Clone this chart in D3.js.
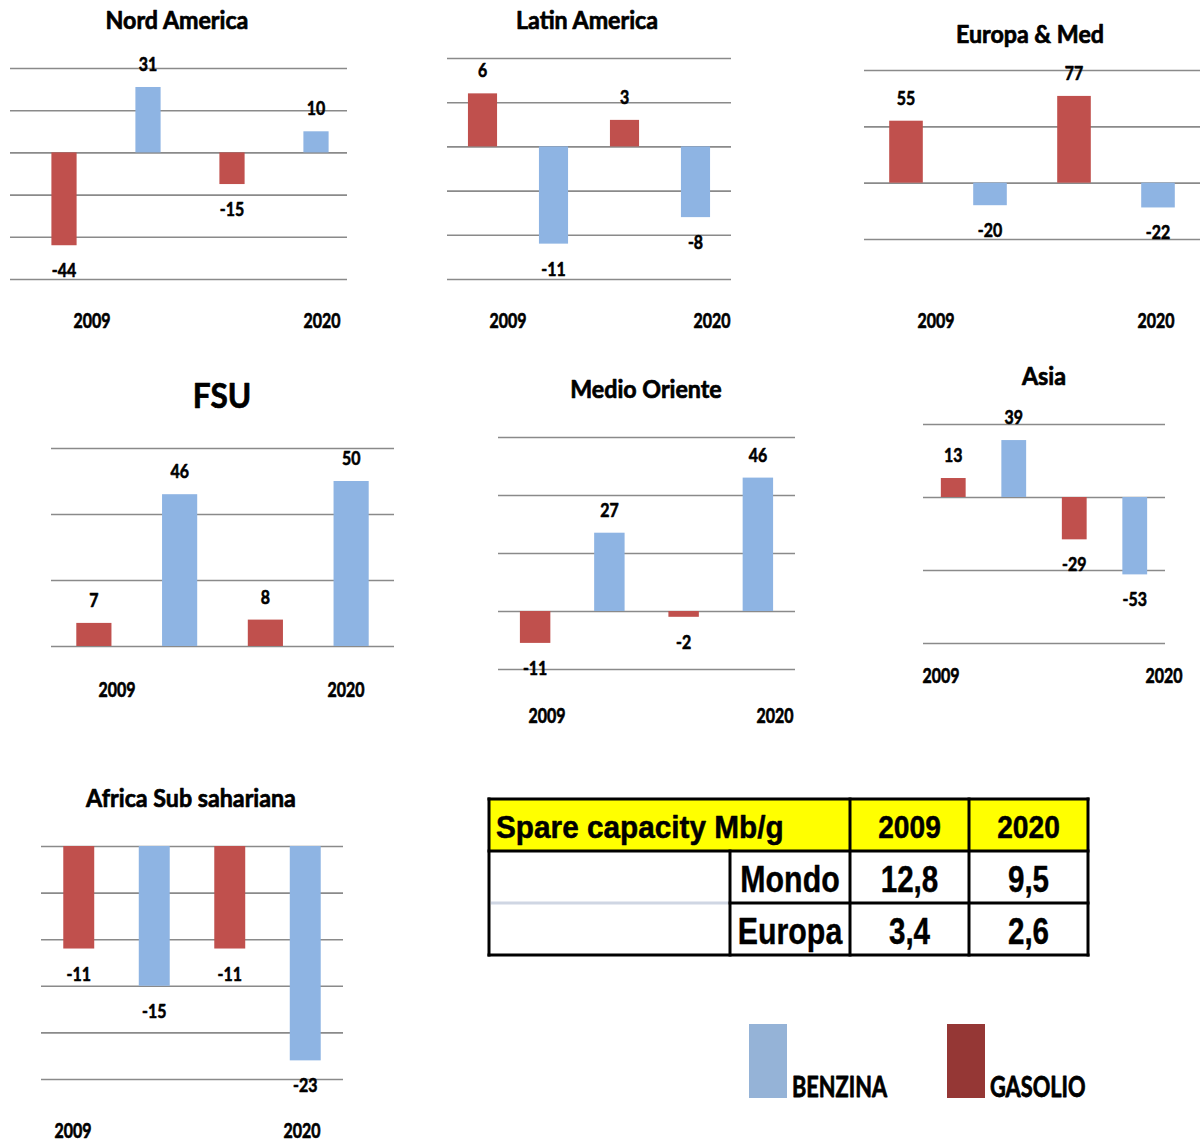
<!DOCTYPE html>
<html>
<head>
<meta charset="utf-8">
<script src="https://cdn.jsdelivr.net/npm/d3@7"></script>
<style>
  html, body { margin: 0; padding: 0; background: #fff; }
  svg { display: block; }
</style>
</head>
<body>
<svg id="chart" width="1201" height="1144"></svg>
<script>
// ---- Data: change in refining balance per region (kb/g), 2009 vs 2020 ----
const regions     = ["Nord America", "Latin America", "Europa & Med", "FSU", "Medio Oriente", "Asia", "Africa Sub sahariana"];
const gasolio2009 = [-44,   6,  55,  7, -11,  13, -11];
const benzina2009 = [ 31, -11, -20, 46,  27,  39, -15];
const gasolio2020 = [-15,   3,  77,  8,  -2, -29, -11];
const benzina2020 = [ 10,  -8, -22, 50,  46, -53, -23];
const yearLabels  = ["2009", "2020"];

// Bar order inside each panel and legend entries
const barSeries   = ["GASOLIO", "BENZINA", "GASOLIO", "BENZINA"];
const legendItems = ["BENZINA", "GASOLIO"];

// Spare capacity table
const tableTitle  = "Spare capacity Mb/g";
const tableYears  = ["2009", "2020"];
const tableAreas  = ["Mondo", "Europa"];
const spare2009   = [12.8, 3.4];
const spare2020   = [9.5, 2.6];

// ---- Styling ----
const barColor    = { GASOLIO: "#C0504D", BENZINA: "#8EB4E3" };
const legendColor = { GASOLIO: "#953735", BENZINA: "#95B3D7" };
const gridColor   = "#8a8a8a";
const chartFont   = "Lato, 'Open Sans', sans-serif";
const tableFont   = "'Liberation Sans', Arial, sans-serif";

// Panel layout: grid extents, value axis, bar band, text anchors
const panels = [
  { gx: [10, 347],   dom: [-60, 40],  yr: [279, 68],  step: 20, bx: [22, 358],   bw: 0.30, title: [177, 29],  tsize: 25, years: [92, 322],   yy: 328 },
  { gx: [447, 731],  dom: [-15, 10],  yr: [279, 58],  step: 5,  bx: [447, 731],  bw: 0.41, title: [587, 29],  tsize: 25, years: [508, 712],  yy: 328 },
  { gx: [864, 1200], dom: [-50, 100], yr: [239, 70],  step: 50, bx: [864, 1200], bw: 0.40, title: [1030, 43], tsize: 25, years: [936, 1156], yy: 328 },
  { gx: [51, 394],   dom: [0, 60],    yr: [646, 448], step: 20, bx: [51, 394],   bw: 0.41, title: [222, 408], tsize: 34, years: [117, 346],  yy: 697 },
  { gx: [498, 795],  dom: [-20, 60],  yr: [669, 437], step: 20, bx: [498, 795],  bw: 0.41, title: [646, 398], tsize: 25, years: [547, 775],  yy: 723 },
  { gx: [923, 1165], dom: [-100, 50], yr: [643, 424], step: 50, bx: [923, 1165], bw: 0.41, title: [1044, 385], tsize: 25, years: [941, 1164], yy: 683 },
  { gx: [41, 343],   dom: [-25, 0],   yr: [1079, 846], step: 5, bx: [41, 343],   bw: 0.41, title: [191, 807], tsize: 25, years: [73, 302],   yy: 1138 }
];

const svg = d3.select("#chart");
svg.append("rect").attr("width", 1201).attr("height", 1144).attr("fill", "#fff");

// Text with horizontal condensing (narrow heavy face look)
function addText(parent, x, y, str, opt) {
  const g = parent.append("g")
    .attr("transform", `translate(${x},${y}) scale(${opt.sx || 1},1)`);
  const t = g.append("text")
    .attr("text-anchor", opt.anchor || "middle")
    .attr("font-family", opt.family || chartFont)
    .attr("font-weight", opt.weight || 700)
    .attr("font-size", opt.size)
    .attr("fill", opt.fill || "#000")
    .text(str);
  if (opt.stroke) {
    t.attr("stroke", opt.fill || "#000").attr("stroke-width", opt.stroke).attr("stroke-linejoin", "round");
  }
  return t;
}

// ---- Small multiples ----
regions.forEach((name, i) => {
  const p = panels[i];
  const g = svg.append("g").attr("class", "panel");
  const values = [gasolio2009[i], benzina2009[i], gasolio2020[i], benzina2020[i]];

  const y = d3.scaleLinear().domain(p.dom).range(p.yr);
  const x = d3.scalePoint().domain(d3.range(4)).range(p.bx).padding(0.5);
  const bandW = x.step() * p.bw;

  // horizontal gridlines
  const ticks = d3.range(p.dom[0], p.dom[1] + p.step / 2, p.step);
  const grid = d3.axisLeft(y).tickValues(ticks).tickSize(-(p.gx[1] - p.gx[0])).tickFormat("");
  const ga = g.append("g").attr("transform", `translate(${p.gx[0]},0)`).call(grid);
  ga.select(".domain").remove();
  ga.selectAll(".tick line").attr("stroke", gridColor).attr("stroke-width", 1.6);

  // bars
  g.selectAll("rect.bar").data(values).join("rect")
    .attr("class", "bar")
    .attr("x", (d, k) => x(k) - bandW / 2)
    .attr("width", bandW)
    .attr("y", d => y(Math.max(0, d)))
    .attr("height", d => Math.abs(y(d) - y(0)))
    .attr("fill", (d, k) => barColor[barSeries[k]]);

  // value labels: above positive bars, below negative bars
  values.forEach((v, k) => {
    const ly = v >= 0 ? y(v) - 16 : y(v) + 32;
    addText(g, x(k), ly, String(v), { size: 18.5, sx: 0.86, stroke: 0.6 });
  });

  // title
  addText(g, p.title[0], p.title[1], name, { size: p.tsize, sx: 0.93, stroke: 0.7 });

  // year labels
  yearLabels.forEach((yl, k) => addText(g, p.years[k], p.yy, yl, { size: 21, sx: 0.76, stroke: 0.7 }));
});

// ---- Spare capacity table ----
const fmt = d3.formatLocale({ decimal: ",", thousands: ".", grouping: [3], currency: ["", "€"] }).format(".1f");
const tb = svg.append("g").attr("class", "table");
const colX = [489, 730, 850, 969, 1088];
const rowY = [799, 851, 903, 955];

tb.append("rect").attr("x", colX[0]).attr("y", rowY[0])
  .attr("width", colX[4] - colX[0]).attr("height", rowY[1] - rowY[0]).attr("fill", "#FFFF00");
// faint separator in the blank column
tb.append("line").attr("x1", colX[0] + 2).attr("x2", colX[1] - 2)
  .attr("y1", rowY[2]).attr("y2", rowY[2]).attr("stroke", "#cfd6e3").attr("stroke-width", 3);

const bw = 3;
const line = (x1, y1, x2, y2) => tb.append("line").attr("x1", x1).attr("y1", y1).attr("x2", x2).attr("y2", y2)
  .attr("stroke", "#000").attr("stroke-width", bw).attr("stroke-linecap", "square");
line(colX[0], rowY[0], colX[4], rowY[0]);
line(colX[0], rowY[1], colX[4], rowY[1]);
line(colX[1], rowY[2], colX[4], rowY[2]);
line(colX[0], rowY[3], colX[4], rowY[3]);
line(colX[0], rowY[0], colX[0], rowY[3]);
line(colX[1], rowY[1], colX[1], rowY[3]);
line(colX[2], rowY[0], colX[2], rowY[3]);
line(colX[3], rowY[0], colX[3], rowY[3]);
line(colX[4], rowY[0], colX[4], rowY[3]);

addText(tb, 496, 838, tableTitle, { size: 32, sx: 0.93, anchor: "start", family: tableFont, stroke: 0.5 });
tableYears.forEach((yr, k) =>
  addText(tb, (colX[2 + k] + colX[3 + k]) / 2, 838, yr, { size: 32, sx: 0.88, family: tableFont, stroke: 0.5 }));
tableAreas.forEach((a, r) => {
  const by = rowY[1 + r] + 41;
  addText(tb, (colX[1] + colX[2]) / 2, by, a, { size: 37, sx: 0.82, family: tableFont, stroke: 0.4 });
  addText(tb, (colX[2] + colX[3]) / 2, by, fmt(spare2009[r]), { size: 37, sx: 0.8, family: tableFont, stroke: 0.4 });
  addText(tb, (colX[3] + colX[4]) / 2, by, fmt(spare2020[r]), { size: 37, sx: 0.8, family: tableFont, stroke: 0.4 });
});

// ---- Legend ----
const lg = svg.append("g").attr("class", "legend");
const legendX = [749, 947];
legendItems.forEach((it, k) => {
  lg.append("rect").attr("x", legendX[k]).attr("y", 1024).attr("width", 38).attr("height", 74)
    .attr("fill", legendColor[it]);
  addText(lg, legendX[k] + 43, 1097, it, { size: 29, sx: 0.75, anchor: "start", stroke: 0.8 });
});
</script>
</body>
</html>
